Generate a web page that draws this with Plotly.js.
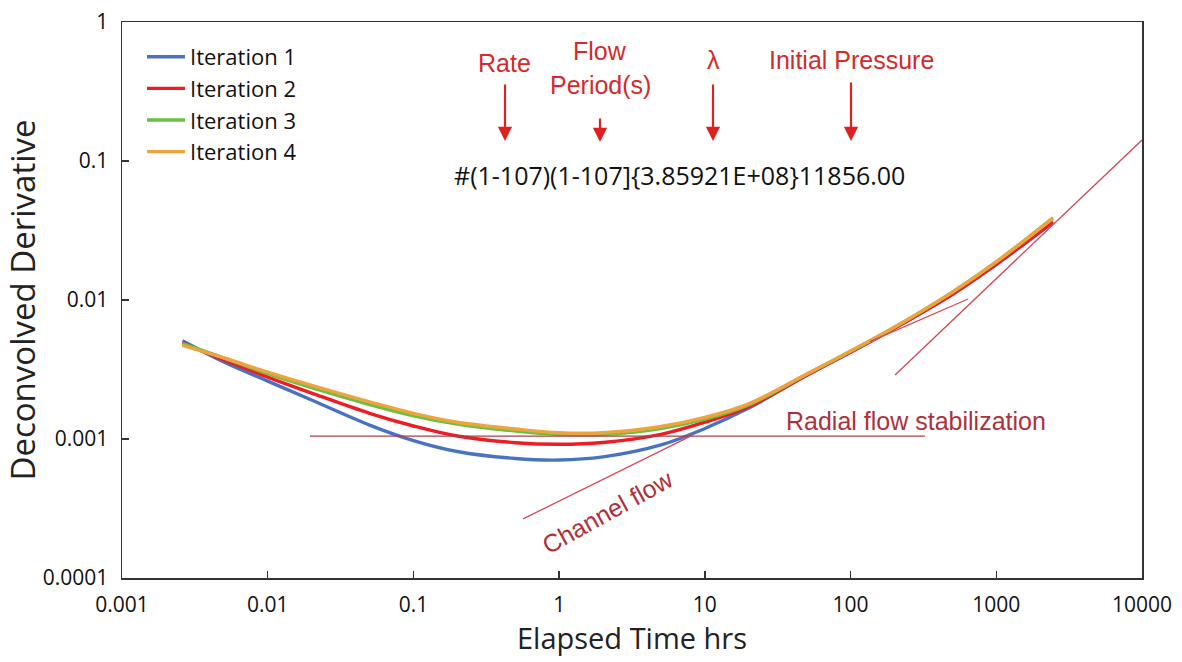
<!DOCTYPE html>
<html>
<head>
<meta charset="utf-8">
<script src="https://cdn.plot.ly/plotly-3.0.1.min.js"></script>
<style>
html,body{margin:0;padding:0;background:#fff;}
#chart{width:1182px;height:662px;}
</style>
</head>
<body>
<div id="chart"></div>
<script>
// ---- data ----
const time  = [0.0026, 0.005, 0.01, 0.02, 0.05, 0.1, 0.2, 0.5, 1, 2, 5, 10, 20, 50, 100, 200, 500, 1000, 2450];
const iter1 = [0.00509, 0.00358, 0.00261, 0.00191, 0.00126, 0.000975, 0.000813, 0.000724, 0.000706, 0.000743, 0.000906, 0.00119, 0.00167, 0.00287, 0.00421, 0.00626, 0.0110, 0.0180, 0.0362];
const iter2 = [0.00493, 0.00370, 0.00279, 0.00214, 0.00153, 0.00124, 0.00105, 0.000940, 0.000916, 0.000944, 0.00108, 0.00132, 0.00171, 0.00288, 0.00422, 0.00627, 0.0110, 0.0181, 0.0365];
const iter3 = [0.00486, 0.00383, 0.00295, 0.00234, 0.00177, 0.00147, 0.00128, 0.00114, 0.00108, 0.00108, 0.00119, 0.00139, 0.00176, 0.00292, 0.00428, 0.00636, 0.0114, 0.0188, 0.0390];
const iter4 = [0.00471, 0.00383, 0.00303, 0.00243, 0.00185, 0.00153, 0.00132, 0.00118, 0.00111, 0.00111, 0.00123, 0.00143, 0.00179, 0.00293, 0.00429, 0.00637, 0.0114, 0.0188, 0.0388];
const seriesNames = ['Iteration 1', 'Iteration 2', 'Iteration 3', 'Iteration 4'];

// straight guide lines (flow regimes)
const radialT  = [0.0195, 324];   const radialD  = [0.00105, 0.00105];
const channelT = [0.565, 8.3];    const channelD = [0.000266, 0.00107];
const halfT    = [136, 640];      const halfD    = [0.00501, 0.01017];
const unitT    = [202, 10000];    const unitD    = [0.00289, 0.1416];

const xTickVals = [0.001, 0.01, 0.1, 1, 10, 100, 1000, 10000];
const xTickText = ['0.001', '0.01', '0.1', '1', '10', '100', '1000', '10000'];
const yTickVals = [0.0001, 0.001, 0.01, 0.1, 1];
const yTickText = ['0.0001', '0.001', '0.01', '0.1', '1'];

const headerText = '#(1-107)(1-107]{3.85921E+08}11856.00';

// ---- build ----
const colors = ['#4a72c2', '#ee1c25', '#6cc041', '#eda33e'];
const ys = [iter1, iter2, iter3, iter4];
const traces = ys.map((y, i) => ({
  x: time, y: y, type: 'scatter', mode: 'lines', name: seriesNames[i],
  line: {color: colors[i], width: 3.4, shape: 'spline', smoothing: 1},
  legendgroup: 'g' + i
}));
const guide = (x, y, c) => ({x: x, y: y, type: 'scatter', mode: 'lines', showlegend: false,
  hoverinfo: 'skip', line: {color: c, width: 1.3}});
traces.push(guide(radialT, radialD, '#a8404a'));
traces.push(guide(channelT, channelD, '#d24a58'));
traces.push(guide(halfT, halfD, '#d24a58'));
traces.push(guide(unitT, unitD, '#d24a58'));

const L = 122, R = 1142, T = 22, B = 578;
const px = v => (v - L) / (R - L);
const py = v => (B - v) / (B - T);
const red = '#d42a2a';
const redFont = {family: 'Liberation Sans, Arial, sans-serif', size: 25, color: red};
const darkRedFont = {family: 'Liberation Sans, Arial, sans-serif', size: 25, color: '#b0303a'};

const ann = [];
function label(text, x, y, font, extra) {
  ann.push(Object.assign({text: text, xref: 'paper', yref: 'paper', x: px(x), y: py(y),
    showarrow: false, xanchor: 'center', yanchor: 'middle', font: font}, extra || {}));
}
function arrow(x, yTip, len) {
  ann.push({text: '', xref: 'paper', yref: 'paper', x: px(x), y: py(yTip), showarrow: true,
    ax: 0, ay: -len, arrowhead: 2, arrowsize: 1.3, arrowwidth: 2.2, arrowcolor: '#e02020', standoff: 0});
}
label('Rate', 504, 63, redFont);
label('Flow', 600, 51, redFont);
label('Period(s)', 600, 85, redFont);
label('λ', 713, 60, redFont);
label('Initial Pressure', 851, 60, redFont);
arrow(505, 141, 58);
arrow(600, 142, 25);
arrow(713, 141, 58);
arrow(851, 141, 60);
label(headerText, 679, 175, {family: 'Open Sans, sans-serif', size: 25, color: '#111'});
label('Radial flow stabilization', 784, 421, darkRedFont, {xanchor: 'left'});
label('Channel flow', 607, 512, darkRedFont, {textangle: -29});

const layout = {
  width: 1182, height: 662,
  margin: {l: L, r: 1182 - R, t: T, b: 662 - B, pad: 0},
  paper_bgcolor: '#fff', plot_bgcolor: '#fff',
  font: {family: 'Open Sans, sans-serif', color: '#111'},
  showlegend: true,
  legend: {x: px(142), y: py(36), xanchor: 'left', yanchor: 'top', bgcolor: 'rgba(0,0,0,0)',
    font: {size: 22, color: '#111'}, tracegroupgap: 0, traceorder: 'grouped', itemwidth: 38},
  xaxis: {type: 'log', range: [-3, 4], tickvals: xTickVals, ticktext: xTickText,
    ticks: 'inside', ticklen: 7, tickwidth: 1.5, tickcolor: '#333', showgrid: false, zeroline: false,
    showline: true, linecolor: '#333', linewidth: 1.5, mirror: true,
    tickfont: {size: 21, color: '#111'}, ticklabelstandoff: 7,
    title: {text: 'Elapsed Time hrs', font: {size: 29, color: '#222'}, standoff: 4}},
  yaxis: {type: 'log', range: [-4, 0], tickvals: yTickVals, ticktext: yTickText,
    ticks: 'inside', ticklen: 7, tickwidth: 1.5, tickcolor: '#333', showgrid: false, zeroline: false,
    showline: true, linecolor: '#333', linewidth: 1.5, mirror: true,
    tickfont: {size: 21, color: '#111'}, ticklabelstandoff: 8,
    title: {text: 'Deconvolved Derivative', font: {size: 33, color: '#222'}, standoff: 3}},
  annotations: ann
};
Plotly.newPlot('chart', traces, layout, {displayModeBar: false, staticPlot: true});
</script>
</body>
</html>
